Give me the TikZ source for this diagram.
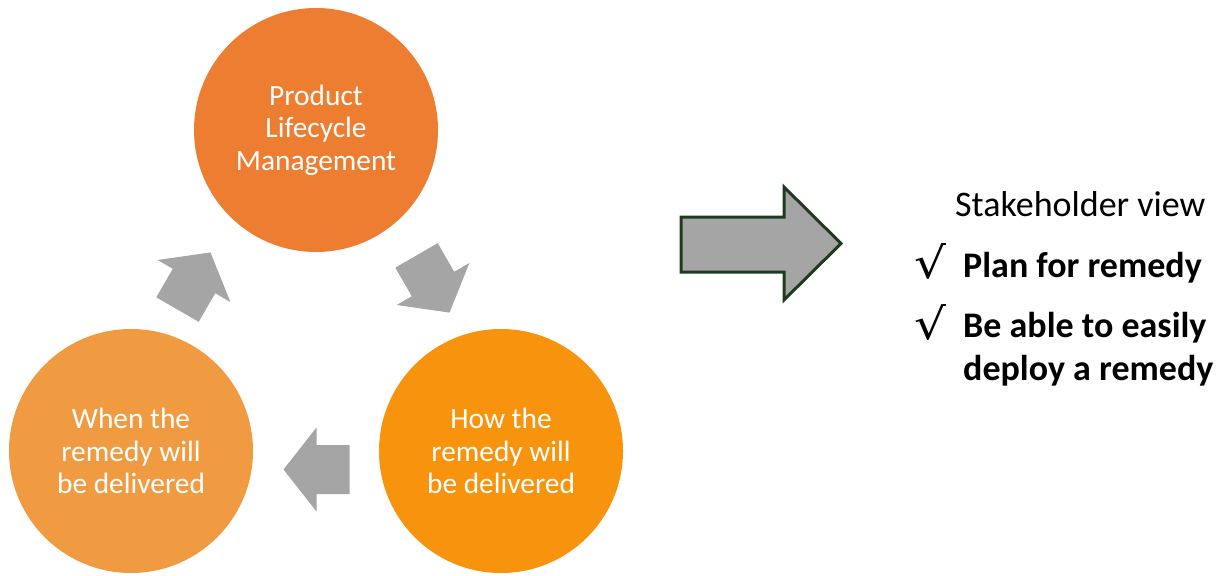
\documentclass[tikz,border=0pt]{standalone}
\usepackage{fontspec}
\usepackage{graphicx}
\setmainfont{Carlito}
\newfontfamily\chkfont{DejaVu Sans}
\usetikzlibrary{calc}
\definecolor{plmorange}{HTML}{ED7D31}
\definecolor{whenorange}{HTML}{F09B41}
\definecolor{howorange}{HTML}{F7930C}
\definecolor{arrgray}{HTML}{A5A5A5}
\definecolor{arrborder}{HTML}{1F3B1F}
\newcommand{\chk}{\resizebox{32pt}{35pt}{\chkfont √}}

\begin{document}
\begin{tikzpicture}[x=1pt,y=-1pt,
     phase/.style={circle,minimum size=244pt,inner sep=0pt,text=white,align=center,
                   font=\fontsize{29.4}{32.5}\selectfont},
     view/.style={anchor=base west,inner sep=0pt,font=\fontsize{36}{43}\selectfont},
     tick/.style={anchor=base west,inner sep=0pt},
     turn/.pic={\fill[arrgray] (-33,-24.5) -- (0,-24.5) -- (0,-42) -- (33,0)
                               -- (0,42) -- (0,24.5) -- (-33,24.5) -- cycle;}]
  \useasboundingbox (0,0) rectangle (1222,575);
  % the cycle
  \node(PLMc)[phase,fill=plmorange] at (316,130) {Product\\Lifecycle\\Management};
  \node(WHENc)[phase,fill=whenorange] at (131,451) {When the\\remedy will\\be delivered};
  \node(HOWc)[phase,fill=howorange] at (501,451) {How the\\remedy will\\be delivered};
  \pic[rotate=60] at (194,281) {turn};
  \pic[rotate=-60] at (433,284) {turn};
  \pic[rotate=180] at (316.5,469.5) {turn};
  % big arrow
  \draw[arrborder,line width=3pt,fill=arrgray,line join=miter]
       (681,217) -- (784,217) -- (784,187) -- (841,243.5) -- (784,300) -- (784,272) -- (681,272) -- cycle;
  % stakeholder view
  \node(VIEWt)[view] at (955,216) {Stakeholder view};
  \node(CHKa)[tick] at (914,278) {\chk};
  \node(PLANt)[view,font=\fontsize{36}{43}\selectfont\bfseries] at (963,277) {Plan for remedy};
  \node(CHKb)[tick] at (914,339) {\chk};
  \node(DEPa)[view,font=\fontsize{36}{43}\selectfont\bfseries] at (963,337) {Be able to easily};
  \node(DEPb)[view,font=\fontsize{36}{43}\selectfont\bfseries] at (963,380) {deploy a remedy};
\end{tikzpicture}
\end{document}
